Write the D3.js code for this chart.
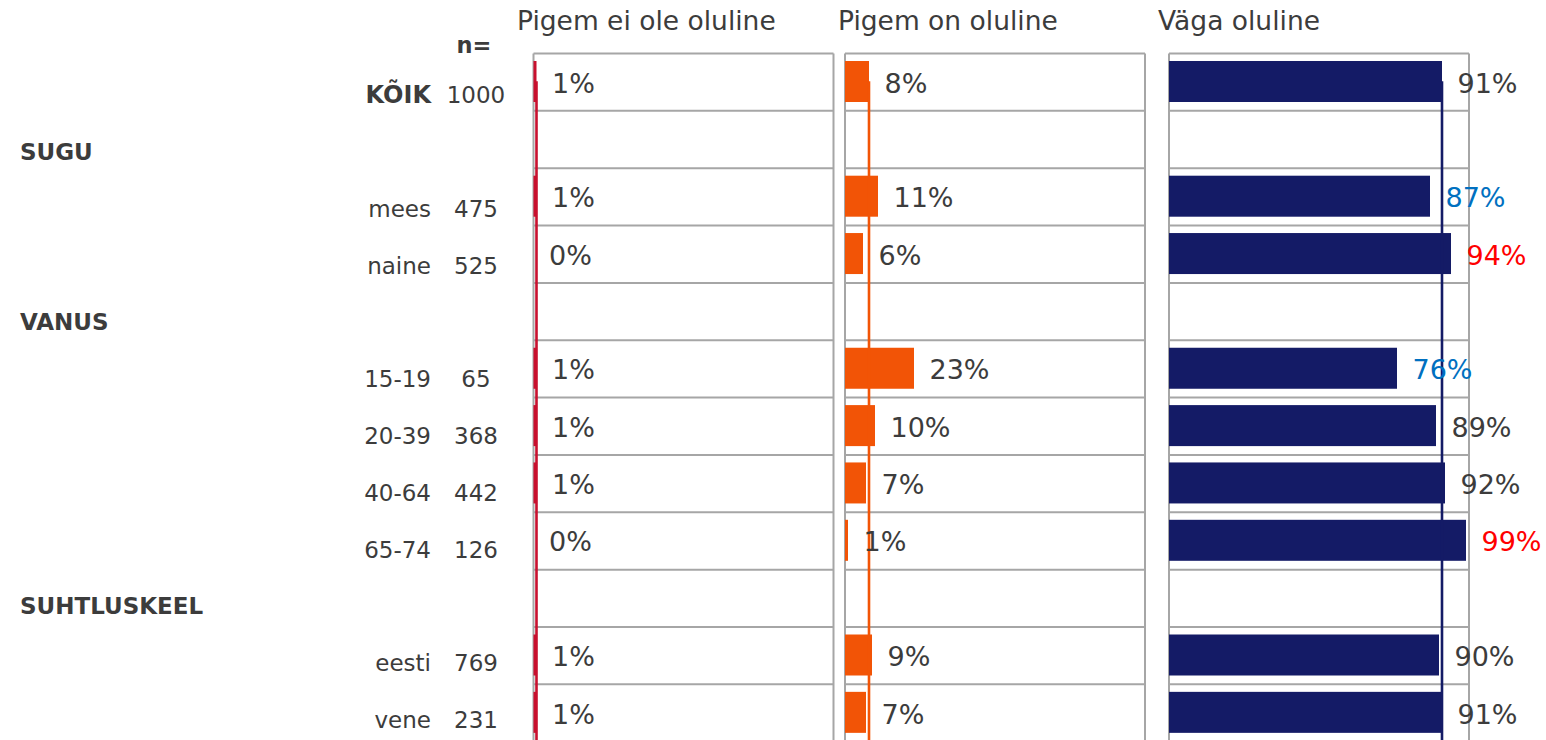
<!DOCTYPE html>
<html><head><meta charset="utf-8">
<script src="https://cdn.jsdelivr.net/npm/d3@7"></script>
<style>
html,body{margin:0;padding:0;background:#fff;}
svg{display:block;font-family:"DejaVu Sans",Verdana,sans-serif;}
</style></head>
<body>
<svg id="chart" width="1546" height="740"></svg>
<script>
// ---- data ----
const rows = ["KÕIK","SUGU","mees","naine","VANUS","15-19","20-39","40-64","65-74","SUHTLUSKEEL","eesti","vene"];
const groupRows = ["SUGU","VANUS","SUHTLUSKEEL"];
const nValues = [1000,null,475,525,null,65,368,442,126,null,769,231];
const seriesNames = ["Pigem ei ole oluline","Pigem on oluline","Väga oluline"];
const notImportant = [1,null,1,0,null,1,1,1,0,null,1,1];
const ratherImportant = [8,null,11,6,null,23,10,7,1,null,9,7];
const veryImportant = [91,null,87,94,null,76,89,92,99,null,90,91];
// significance marks for "Väga oluline": -1 lower (blue), 1 higher (red), 0 none
const veryImportantSig = [0,null,-1,1,null,-1,0,0,1,null,0,0];
const seriesColors = ["#C8102E","#F25406","#141B66"];

const series = [notImportant, ratherImportant, veryImportant];
const sigs = [rows.map(()=>0), rows.map(()=>0), veryImportantSig];

const svg = d3.select("#chart");
const gridColor = "#A6A6A6";
const textColor = "#3C3C3C";
const topY = 53.5, rowH = 57.35, labelRowH = 56.8;
const y = d3.scaleBand().domain(rows).range([topY, topY + rowH*rows.length]).padding(0);
const yLab = d3.scaleBand().domain(rows).range([topY, topY + labelRowH*rows.length]).padding(0);
const panelX = [533.5, 845, 1169];
const panelW = 300;
const headerDx = [-16.5, -7, -11];

series.forEach((vals, p) => {
  const x = d3.scaleLinear().domain([0,100]).range([panelX[p], panelX[p]+panelW]);
  const g = svg.append("g");
  g.append("text").attr("x", panelX[p]+headerDx[p]).attr("y", 30)
    .attr("font-size", 26.5).attr("fill", textColor).text(seriesNames[p]);
  const bottom = topY + rowH*rows.length;
  g.selectAll("line.h").data(d3.range(rows.length+1)).join("line")
    .attr("x1", x(0)).attr("x2", x(100))
    .attr("y1", i => topY + i*rowH).attr("y2", i => topY + i*rowH)
    .attr("stroke", gridColor).attr("stroke-width", 2);
  [0,100].forEach(v => g.append("line").attr("x1", x(v)).attr("x2", x(v))
    .attr("y1", topY).attr("y2", bottom).attr("stroke", gridColor).attr("stroke-width", 2));
  const data = rows.map((r,i)=>({r, v: vals[i], s: sigs[p][i]})).filter(d => d.v !== null);
  g.selectAll("rect.bar").data(data).join("rect")
    .attr("x", x(0)).attr("y", d => y(d.r) + 7.5)
    .attr("width", d => Math.max(0, x(d.v) - x(0))).attr("height", 41)
    .attr("fill", seriesColors[p]);
  const total = vals[0];
  g.append("line").attr("x1", x(total)).attr("x2", x(total))
    .attr("y1", y(rows[0]) + rowH/2 - 1).attr("y2", bottom)
    .attr("stroke", seriesColors[p]).attr("stroke-width", 2.6);
  g.selectAll("text.val").data(data).join("text")
    .attr("x", d => x(d.v) + 15.5).attr("y", d => y(d.r) + rowH/2 + 10.5)
    .attr("font-size", 27)
    .attr("fill", d => d.s === -1 ? "#0070C0" : d.s === 1 ? "#FF0000" : textColor)
    .text(d => d.v + "%");
});

const lg = svg.append("g");
lg.append("text").attr("x", 474).attr("y", 53).attr("text-anchor","middle")
  .attr("font-size", 22.5).attr("font-weight","bold").attr("fill", textColor).text("n=");
rows.forEach((r,i) => {
  const cy = yLab(r) + labelRowH/2;
  if (groupRows.includes(r)) {
    lg.append("text").attr("x", 20).attr("y", cy + 21).attr("font-size", 23)
      .attr("font-weight","bold").attr("fill", textColor).text(r);
  } else {
    lg.append("text").attr("x", 431).attr("y", cy + 21.5).attr("text-anchor","end")
      .attr("font-size", r === "KÕIK" ? 24 : 23)
      .attr("font-weight", r === "KÕIK" ? "bold" : "normal")
      .attr("fill", textColor).text(r);
    lg.append("text").attr("x", 476).attr("y", cy + 21.5).attr("text-anchor","middle")
      .attr("font-size", 23).attr("fill", textColor).text(nValues[i]);
  }
});
</script>
</body></html>
